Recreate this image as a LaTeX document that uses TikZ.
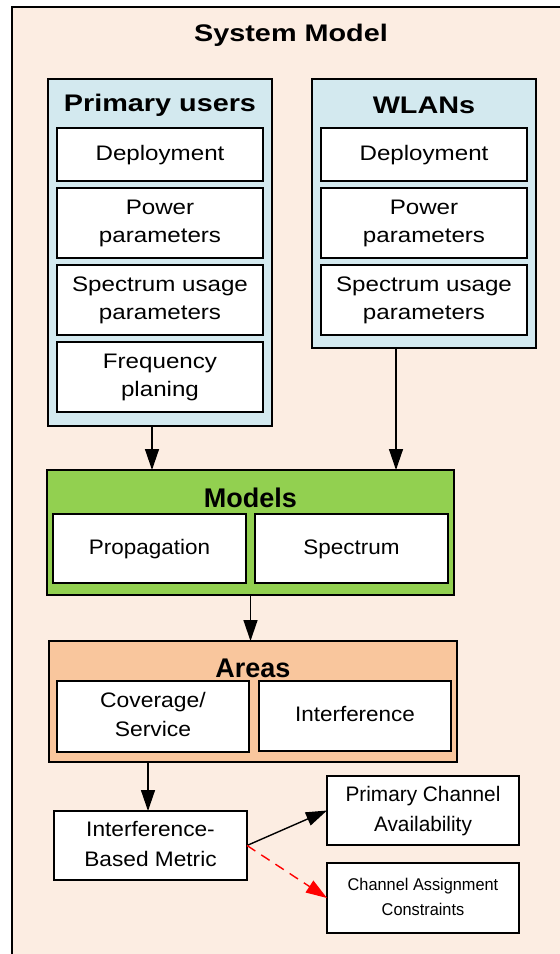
\documentclass[tikz,border=0pt]{standalone}
\usepackage{fontspec}
\setmainfont{Liberation Sans}
\usepackage{graphicx}
\usetikzlibrary{arrows.meta}

\definecolor{sysbg}{HTML}{FCEDE2}
\definecolor{userbg}{HTML}{D3E9EF}
\definecolor{modelbg}{HTML}{92D050}
\definecolor{areabg}{HTML}{F9C69D}

% horizontally widened, centred multi-line label
\newcommand\wtext[2]{\scalebox{#1}[1]{\begin{tabular}{@{}c@{}}#2\end{tabular}}}

\tikzset{
  frame/.style={draw, line width=1.5pt, inner sep=0pt, outer sep=0pt},
  cell/.style={frame, fill=white},
  group/.style={frame},
  boldtitle/.style={inner sep=0pt, font=\fontsize{24}{28}\selectfont\bfseries},
  bigtitle/.style={inner sep=0pt, font=\fontsize{27}{30}\selectfont\bfseries},
  celltext/.style={font=\fontsize{21}{28.5}\selectfont},
  arr/.style={line width=1.4pt, -{Triangle[length=21pt,width=14pt]}},
}

\begin{document}
\begin{tikzpicture}[x=1pt, y=-1pt]
  \useasboundingbox (0,0) rectangle (560,954);
  \clip (0,0) rectangle (560,954);

  % enclosing system frame (runs off the right and bottom edges)
  \node[frame, line width=1.6pt, fill=sysbg, minimum width=570, minimum height=960, anchor=north west] (sys) at (12,7) {};
  \node[boldtitle] (systitle) at (291,35) {\scalebox{1.2}[1]{System Model}};

  % primary users
  \node[group, fill=userbg, minimum width=224, minimum height=347] (pu) at (160,252.5) {};
  \node[boldtitle] (putitle) at (160,105) {\scalebox{1.2}[1]{Primary users}};
  \node[cell, celltext, minimum width=206, minimum height=53] (pudep) at (160,154.5) {\wtext{1.15}{Deployment}};
  \node[cell, celltext, minimum width=206, minimum height=70] (pupow) at (160,223) {\wtext{1.15}{Power\\parameters}};
  \node[cell, celltext, minimum width=206, minimum height=70] (puspec) at (160,300) {\wtext{1.15}{Spectrum usage\\parameters}};
  \node[cell, celltext, minimum width=206, minimum height=70] (pufreq) at (160,377) {\wtext{1.15}{Frequency\\planing}};

  % WLANs
  \node[group, fill=userbg, minimum width=224, minimum height=269] (wl) at (424,213.5) {};
  \node[boldtitle] (wltitle) at (424,105) {\scalebox{1.2}[1]{WLANs}};
  \node[cell, celltext, minimum width=206, minimum height=53] (wldep) at (424,154.5) {\wtext{1.15}{Deployment}};
  \node[cell, celltext, minimum width=206, minimum height=70] (wlpow) at (424,223) {\wtext{1.15}{Power\\parameters}};
  \node[cell, celltext, minimum width=206, minimum height=70] (wlspec) at (424,300) {\wtext{1.15}{Spectrum usage\\parameters}};

  % models
  \node[group, fill=modelbg, minimum width=407, minimum height=125] (models) at (250.5,532.5) {};
  \node[bigtitle] (modtitle) at (250.5,498) {Models};
  \node[cell, celltext, minimum width=193, minimum height=69] (prop) at (149.5,548.5) {\wtext{1.07}{Propagation}};
  \node[cell, celltext, minimum width=193, minimum height=69] (spec) at (351.5,548.5) {\wtext{1.07}{Spectrum}};

  % areas
  \node[group, fill=areabg, minimum width=408, minimum height=121] (areas) at (253,701.5) {};
  \node[bigtitle] (areatitle) at (253,668) {Areas};
  \node[cell, celltext, minimum width=192, minimum height=71] (cov) at (153,716.5) {\wtext{1.09}{Coverage/\\Service}};
  \node[cell, celltext, minimum width=192, minimum height=70] (intf) at (355,716) {\wtext{1.07}{Interference}};

  % metric and outputs
  \node[cell, font=\fontsize{21}{30}\selectfont, minimum width=193, minimum height=69] (metric) at (150.5,845.5) {\wtext{1.08}{Interference-\\Based Metric}};
  \node[cell, font=\fontsize{21}{30}\selectfont, minimum width=192, minimum height=69] (pca) at (423,810.5) {\wtext{0.99}{Primary Channel\\Availability}};
  \node[cell, font=\fontsize{17}{25}\selectfont, minimum width=192, minimum height=70] (cac) at (423,898) {\wtext{0.96}{Channel Assignment\\Constraints}};

  % connectors
  \draw[arr] ([xshift=-8pt]pu.south) -- ([xshift=-8pt]pu.south |- models.north);
  \draw[arr] ([xshift=-28pt]wl.south) -- ([xshift=-28pt]wl.south |- models.north);
  \draw[arr] (models.south) -- (models.south |- areas.north);
  \draw[arr] ([xshift=-2.5pt]metric.north |- areas.south) -- ([xshift=-2.5pt]metric.north);
  \draw[arr] (metric.east) -- (pca.west);
  \draw[arr, red, dash pattern=on 10pt off 7pt] (metric.east) -- (cac.west);
\end{tikzpicture}
\end{document}
